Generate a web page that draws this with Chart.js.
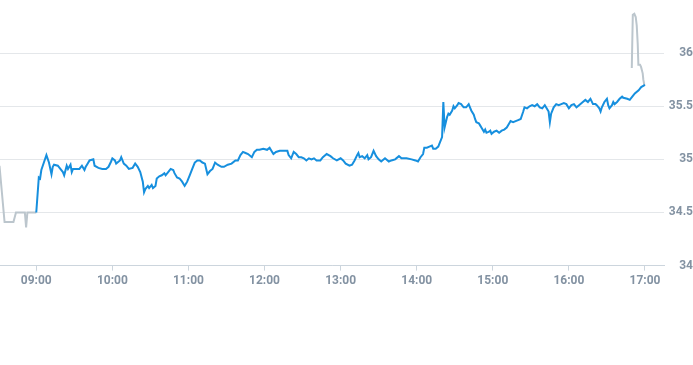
<!DOCTYPE html>
<html lang="en">
<head>
  <meta charset="UTF-8" />
  <title>Intraday price</title>
  <script src="https://cdn.jsdelivr.net/npm/chart.js"></script>
  <style>
    html, body {
      margin: 0;
      padding: 0;
      background: #fff;
    }
    #wrap {
      width: 693px;
      height: 365px;
    }
  </style>
</head>
<body>
  <div id="wrap"><canvas id="priceChart"></canvas></div>

  <script>
    // pre-market (grey)
    const preTimes = ["08:31", "08:35", "08:42", "08:44", "08:51", "08:52", "08:53", "09:00"];
    const preValues = [34.94, 34.41, 34.41, 34.50, 34.50, 34.36, 34.50, 34.50];

    // regular session (blue)
    const sessionTimes = [
      "09:00","09:02","09:03","09:04","09:06","09:08","09:10","09:12","09:13","09:14",
      "09:17","09:19","09:21","09:22","09:24","09:25","09:27","09:28","09:29","09:32",
      "09:34","09:36","09:38","09:39","09:40","09:42","09:45","09:46","09:49","09:52",
      "09:55","09:57","09:59","10:00","10:02","10:03","10:06","10:07","10:09","10:11",
      "10:13","10:16","10:18","10:20","10:22","10:24","10:25","10:26","10:28","10:29",
      "10:31","10:32","10:34","10:35","10:37","10:39","10:41","10:42","10:44","10:46",
      "10:48","10:49","10:51","10:53","10:55","10:57","10:58","10:59","11:01","11:03",
      "11:05","11:07","11:09","11:11","11:13","11:14","11:15","11:17","11:19","11:21",
      "11:23","11:26","11:28","11:31","11:34","11:37","11:39","11:41","11:43","11:45",
      "11:47","11:50","11:52","11:54","11:56","11:59","12:02","12:04","12:06","12:07",
      "12:09","12:12","12:15","12:18","12:19","12:21","12:23","12:25","12:27","12:29",
      "12:31","12:33","12:35","12:37","12:39","12:41","12:44","12:46","12:49","12:52",
      "12:54","12:57","13:00","13:02","13:04","13:07","13:09","13:11","13:13","13:14",
      "13:15","13:17","13:19","13:21","13:22","13:24","13:26","13:28","13:30","13:32",
      "13:35","13:38","13:40","13:43","13:46","13:48","13:52","13:56","13:59","14:01",
      "14:03","14:05","14:06","14:08","14:10","14:12","14:13","14:15","14:17","14:18",
      "14:20","14:21","14:22","14:24","14:25","14:26","14:28","14:29","14:30","14:32",
      "14:33","14:35","14:37","14:39","14:41","14:42","14:43","14:45","14:46","14:47",
      "14:49","14:50","14:51","14:53","14:54","14:55","14:57","14:58","14:59","15:01",
      "15:03","15:05","15:07","15:09","15:11","15:13","15:14","15:16","15:18","15:20",
      "15:22","15:24","15:25","15:27","15:29","15:31","15:33","15:35","15:37","15:39",
      "15:41","15:42","15:44","15:45","15:46","15:48","15:50","15:52","15:54","15:56",
      "15:58","16:00","16:02","16:04","16:06","16:08","16:11","16:13","16:15","16:17",
      "16:19","16:21","16:22","16:24","16:25","16:26","16:28","16:30","16:31","16:32",
      "16:34","16:35","16:36","16:38","16:40","16:42","16:43","16:46","16:48","16:50",
      "16:52","16:55","16:57","17:00"
    ];
    const sessionValues = [
      34.50,34.83,34.82,34.90,34.97,35.04,34.97,34.86,34.93,34.95,
      34.94,34.91,34.88,34.85,34.94,34.91,34.95,34.88,34.91,34.91,
      34.91,34.94,34.90,34.93,34.95,34.99,35.00,34.94,34.92,34.91,
      34.91,34.93,34.98,35.01,34.99,34.96,34.99,35.02,34.96,34.94,
      34.91,34.92,34.96,34.93,34.88,34.79,34.69,34.72,34.75,34.73,
      34.76,34.73,34.75,34.82,34.84,34.85,34.87,34.85,34.88,34.91,
      34.90,34.87,34.83,34.82,34.79,34.75,34.77,34.79,34.85,34.91,
      34.97,34.99,34.99,34.97,34.96,34.91,34.86,34.89,34.91,34.97,
      34.95,34.93,34.93,34.95,34.96,34.99,34.99,35.04,35.07,35.06,
      35.05,35.02,35.07,35.09,35.09,35.10,35.09,35.11,35.07,35.05,
      35.07,35.08,35.08,35.08,35.04,35.01,35.07,35.05,35.02,35.02,
      35.01,34.99,35.01,35.00,35.01,34.99,34.99,35.02,35.05,35.03,
      35.01,34.99,35.01,34.99,34.96,34.94,34.95,34.99,35.04,35.06,
      35.02,35.03,35.01,35.04,35.00,35.02,35.08,35.03,35.00,34.98,
      35.01,34.98,34.99,35.00,35.03,35.01,35.01,35.00,34.99,34.98,
      35.02,35.05,35.11,35.11,35.12,35.13,35.10,35.10,35.12,35.15,
      35.21,35.54,35.30,35.40,35.43,35.42,35.46,35.50,35.48,35.51,
      35.53,35.52,35.49,35.49,35.52,35.49,35.46,35.42,35.38,35.35,
      35.34,35.32,35.30,35.26,35.28,35.25,35.26,35.27,35.24,35.26,
      35.27,35.25,35.27,35.28,35.30,35.34,35.36,35.35,35.36,35.37,
      35.38,35.45,35.49,35.48,35.50,35.51,35.50,35.52,35.49,35.48,
      35.51,35.49,35.45,35.35,35.43,35.49,35.52,35.51,35.52,35.53,
      35.52,35.48,35.51,35.52,35.49,35.51,35.54,35.56,35.54,35.57,
      35.52,35.52,35.51,35.48,35.45,35.49,35.54,35.57,35.51,35.48,
      35.51,35.54,35.52,35.54,35.57,35.59,35.58,35.57,35.56,35.59,
      35.62,35.65,35.68,35.70
    ];

    // after-hours (grey)
    const afterTimes = ["16:49:36", "16:50:24", "16:51:36", "16:52:42", "16:53:30", "16:54:18",
                        "16:54:48", "16:56:06", "16:56:54", "16:58:12", "16:58:42", "16:59:30"];
    const afterValues = [35.86, 36.36, 36.37, 36.34, 36.26, 36.08, 35.89, 35.89, 35.87, 35.81, 35.75, 35.70];

    const hourTicks = ["09:00", "10:00", "11:00", "12:00", "13:00", "14:00", "15:00", "16:00", "17:00"];
    const priceTicks = [34, 34.5, 35, 35.5, 36];

    function toMinutes(s) {
      const p = s.split(":").map(Number);
      return p[0] * 60 + p[1] + (p[2] || 0) / 60;
    }

    function toLabel(m) {
      const h = Math.floor(m / 60);
      const mm = Math.round(m - h * 60);
      return String(h).padStart(2, "0") + ":" + String(mm).padStart(2, "0");
    }

    function points(times, values) {
      return times.map((t, i) => ({ x: toMinutes(t), y: values[i] }));
    }

    const labelColor = "#8392a2";
    const tickFont = { family: "Roboto, 'Liberation Sans', Arial, sans-serif", size: 12, weight: "bold" };

    new Chart(document.getElementById("priceChart"), {
      type: "line",
      data: {
        datasets: [
          {
            label: "Session",
            data: points(sessionTimes, sessionValues),
            borderColor: "#168fde",
            borderWidth: 2,
            pointRadius: 0,
            tension: 0,
            order: 0
          },
          {
            label: "Pre-market",
            data: points(preTimes, preValues),
            borderColor: "#bcc6cd",
            borderWidth: 2,
            pointRadius: 0,
            tension: 0,
            order: 1
          },
          {
            label: "After-hours",
            data: points(afterTimes, afterValues),
            borderColor: "#bcc6cd",
            borderWidth: 2,
            pointRadius: 0,
            tension: 0,
            order: 1
          }
        ]
      },
      options: {
        responsive: true,
        maintainAspectRatio: false,
        animation: false,
        layout: { padding: { left: 0, right: 0, top: 0, bottom: 74 } },
        plugins: {
          legend: { display: false },
          tooltip: { enabled: false }
        },
        scales: {
          x: {
            type: "linear",
            min: toMinutes("08:31:24"),
            max: toMinutes("17:15"),
            afterBuildTicks: scale => {
              scale.ticks = hourTicks.map(t => ({ value: toMinutes(t) }));
            },
            afterFit: scale => {
              scale.paddingLeft = 0;
              scale.paddingRight = 0;
            },
            ticks: {
              color: labelColor,
              font: tickFont,
              padding: 3,
              maxRotation: 0,
              autoSkip: false,
              callback: value => toLabel(value)
            },
            grid: {
              drawOnChartArea: false,
              drawTicks: true,
              tickLength: 5,
              tickColor: "#ccd5dd"
            },
            border: { color: "#ccd5dd" }
          },
          y: {
            position: "right",
            min: 34,
            max: 36.5,
            afterBuildTicks: scale => {
              scale.ticks = priceTicks.map(v => ({ value: v }));
            },
            afterFit: scale => {
              scale.width = 29;
              scale.paddingTop = 0;
              scale.paddingBottom = 0;
            },
            ticks: {
              color: labelColor,
              font: tickFont,
              padding: 4,
              crossAlign: "far",
              callback: value => String(value)
            },
            grid: {
              color: "#e4e7ea",
              drawTicks: false
            },
            border: { display: false }
          }
        }
      }
    });
  </script>
</body>
</html>
